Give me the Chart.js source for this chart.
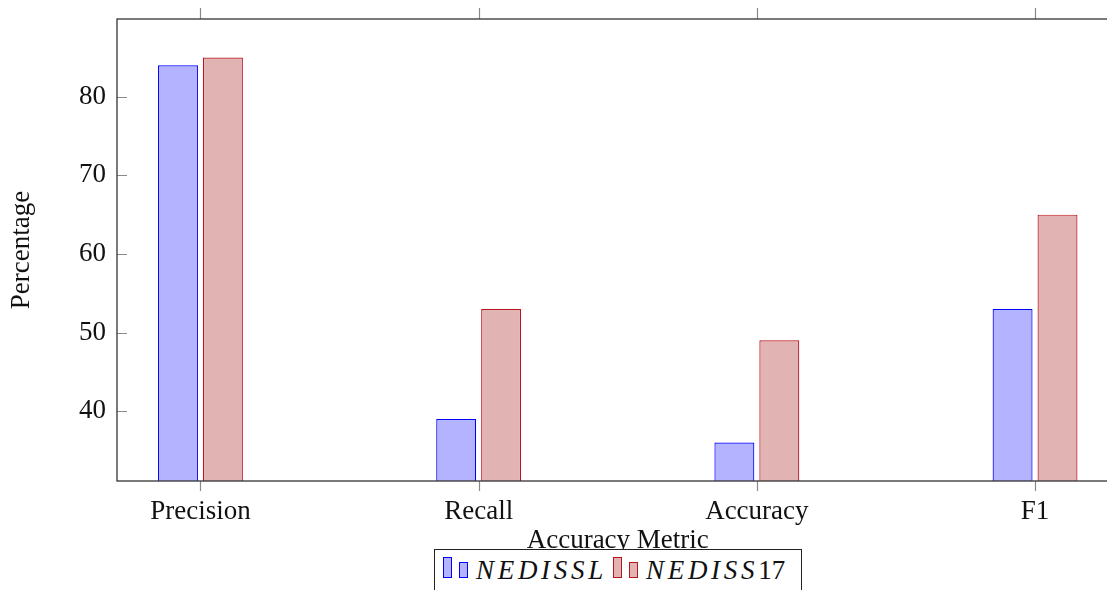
<!DOCTYPE html>
<html>
<head>
<meta charset="utf-8">
<script src="https://cdn.jsdelivr.net/npm/chart.js@4.4.1/dist/chart.umd.min.js"></script>
<style>
  html, body { margin: 0; padding: 0; background: #fff; overflow: hidden; }
  #wrap { position: relative; width: 1120px; height: 590px; }
  #legend {
    position: absolute; left: 434px; top: 549px; width: 366px; height: 60px;
    border: 1.3px solid #222; background: #fff;
    font-family: "Liberation Serif", serif; font-size: 27px; color: #111;
  }
  #legend .ic { position: absolute; width: 7px; border: 1.2px solid; }
  #legend .txt { position: absolute; top: 7px; line-height: 27px; white-space: nowrap; }
  #legend .txt i { letter-spacing: 3.7px; }
</style>
</head>
<body>
<div id="wrap">
  <canvas id="myChart" width="1120" height="590"></canvas>
  <div id="legend"></div>
</div>
<script>
// values
var categories = ["Precision", "Recall", "Accuracy", "F1"];
var nedisslValues = [84, 39, 36, 53];
var nediss17Values = [85, 53, 49, 65];
var yTicks = [40, 50, 60, 70, 80];

var blueLine = "#0000ff", blueFill = "#b3b3ff";
var redLine = "#b8141e", redFill = "#e2b3b3";
var serif = "'Liberation Serif', serif";

// bars sit on a linear x scale so the category spacing can match pgfplots
function toPoints(values) {
  return values.map(function(v, i) { return { x: i, y: v }; });
}

// frame plus tick marks, like the pgfplots axis box
var frameBox = {
  id: 'frameBox',
  afterDatasetsDraw: function(chart) {
    var ctx = chart.ctx, a = chart.chartArea;
    var xs = chart.scales.x, ys = chart.scales.y;
    ctx.save();
    ctx.strokeStyle = "#8a8a8a";
    ctx.lineWidth = 1.2;
    ctx.beginPath();
    categories.forEach(function(c, i) {
      var px = Math.round(xs.getPixelForValue(i)) + 0.5;
      ctx.moveTo(px, a.top - 11); ctx.lineTo(px, a.top);
      ctx.moveTo(px, a.bottom); ctx.lineTo(px, a.bottom + 10);
    });
    yTicks.forEach(function(t) {
      var py = Math.round(ys.getPixelForValue(t)) + 0.5;
      ctx.moveTo(a.left, py); ctx.lineTo(a.left + 10, py);
      ctx.moveTo(a.right, py); ctx.lineTo(a.right - 10, py);
    });
    ctx.stroke();
    ctx.strokeStyle = "#333";
    ctx.lineWidth = 1.3;
    ctx.strokeRect(a.left, a.top, a.right - a.left, a.bottom - a.top);
    ctx.restore();
  }
};

var ctx = document.getElementById('myChart');
var myChart = new Chart(ctx, {
  type: 'bar',
  data: {
    datasets: [{
      label: 'NEDISSL',
      data: toPoints(nedisslValues),
      backgroundColor: blueFill,
      borderColor: blueLine,
      borderWidth: 1.2,
      borderSkipped: false
    }, {
      label: 'NEDISS17',
      data: toPoints(nediss17Values),
      backgroundColor: redFill,
      borderColor: redLine,
      borderWidth: 1.2,
      borderSkipped: false
    }]
  },
  options: {
    responsive: false,
    animation: false,
    categoryPercentage: 0.323,
    barPercentage: 0.889,
    layout: { padding: { top: 19, right: 1.5, left: 0, bottom: 0 } },
    plugins: { legend: { display: false }, tooltip: { enabled: false } },
    scales: {
      x: {
        type: 'linear',
        offset: false,
        min: -0.3,
        max: 3.3,
        grid: { display: false, drawTicks: false, offset: false },
        border: { display: false },
        afterBuildTicks: function(scale) {
          scale.ticks = categories.map(function(c, i) { return { value: i }; });
        },
        afterFit: function(scale) {
          scale.height = 109;
          scale.paddingLeft = 0; scale.paddingRight = 0;
        },
        ticks: {
          padding: 15,
          color: "#111",
          font: { family: serif, size: 27 },
          callback: function(v) { return categories[v]; }
        },
        title: {
          display: true,
          text: 'Accuracy Metric',
          color: "#111",
          font: { family: serif, size: 27 },
          padding: { top: 0, bottom: 33 }
        }
      },
      y: {
        min: 31.1,
        max: 89.9,
        grid: { display: false, drawTicks: false },
        border: { display: false },
        afterBuildTicks: function(scale) {
          scale.ticks = yTicks.map(function(t) { return { value: t }; });
        },
        afterFit: function(scale) {
          scale.width = 117;
          scale.paddingTop = 0; scale.paddingBottom = 0;
        },
        ticks: {
          padding: 11,
          color: "#111",
          font: { family: serif, size: 27 }
        },
        title: {
          display: true,
          text: 'Percentage',
          color: "#111",
          font: { family: serif, size: 27 },
          padding: { top: 6, bottom: 0 }
        }
      }
    }
  },
  plugins: [frameBox]
});

// legend with math-italic names, built as html so it can overlap the axis title like the original
var legend = document.getElementById('legend');
var legendItems = [
  { name: 'NEDISSL', suffix: '', line: blueLine, fill: blueFill, left: 8 },
  { name: 'NEDISS', suffix: '17', line: redLine, fill: redFill, left: 178 }
];
legendItems.forEach(function(item) {
  legend.insertAdjacentHTML('beforeend',
    '<div class="ic" style="left:' + item.left + 'px;top:7px;height:19px;border-color:' + item.line + ';background:' + item.fill + '"></div>' +
    '<div class="ic" style="left:' + (item.left + 16) + 'px;top:12px;height:14px;border-color:' + item.line + ';background:' + item.fill + '"></div>' +
    '<div class="txt" style="left:' + (item.left + 33) + 'px"><i>' + item.name + '</i>' + item.suffix + '</div>');
});
</script>
</body>
</html>
